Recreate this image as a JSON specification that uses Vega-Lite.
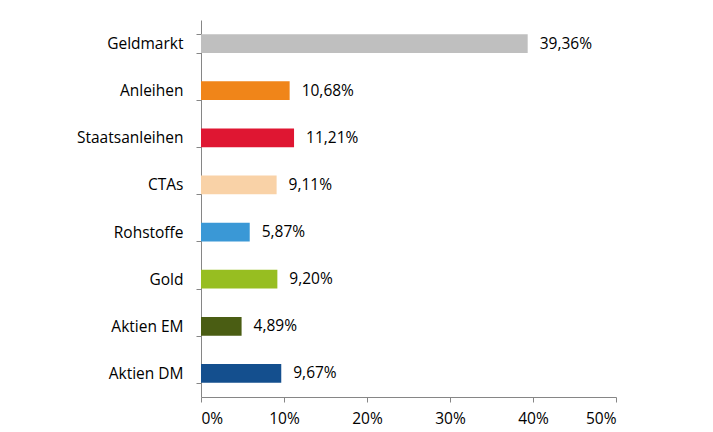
{
  "$schema": "https://vega.github.io/schema/vega-lite/v6.json",
  "width": 415,
  "height": 377,
  "autosize": {"type": "none"},
  "padding": {"left": 201, "top": 20, "right": 97, "bottom": 35},
  "background": "white",
  "data": {
    "values": [
      {"cat": "Geldmarkt", "v": 0.3936, "c": "#BFBFBF"},
      {"cat": "Anleihen", "v": 0.1068, "c": "#F08519"},
      {"cat": "Staatsanleihen", "v": 0.1121, "c": "#DF1632"},
      {"cat": "CTAs", "v": 0.0911, "c": "#F9D2A7"},
      {"cat": "Rohstoffe", "v": 0.0587, "c": "#3A98D6"},
      {"cat": "Gold", "v": 0.092, "c": "#97BE21"},
      {"cat": "Aktien EM", "v": 0.0489, "c": "#4A5D13"},
      {"cat": "Aktien DM", "v": 0.0967, "c": "#144F8E"}
    ]
  },
  "encoding": {
    "y": {
      "field": "cat", "type": "nominal", "sort": null, "title": null,
      "scale": {"paddingInner": 0.6, "paddingOuter": 0.3},
      "axis": {
        "tickBand": "extent", "tickSize": 5, "labelPadding": 13,
        "domainColor": "#868686", "tickColor": "#868686",
        "labelFont": "Open Sans", "labelFontSize": 15.5, "labelFontWeight": "normal", "labelColor": "#000000"
      }
    },
    "x": {
      "field": "v", "type": "quantitative", "title": null,
      "scale": {"domain": [0, 0.5], "nice": false},
      "axis": {
        "values": [0, 0.1, 0.2, 0.3, 0.4, 0.5], "format": ".0%", "grid": false,
        "tickSize": 5, "labelPadding": 9,
        "domainColor": "#868686", "tickColor": "#868686",
        "labelFont": "Open Sans", "labelFontSize": 15.5, "labelFontWeight": "normal", "labelColor": "#000000"
      }
    }
  },
  "layer": [
    {"mark": {"type": "bar"}, "encoding": {"color": {"field": "c", "type": "nominal", "scale": null}}},
    {"mark": {"type": "text", "align": "left", "baseline": "middle", "dx": 12, "font": "Open Sans", "fontSize": 15.5, "color": "#000000"},
     "encoding": {"text": {"field": "v", "type": "quantitative", "format": ".2%"}}}
  ],
  "config": {
    "view": {"stroke": null},
    "locale": {"number": {"decimal": ",", "thousands": ".", "grouping": [3], "currency": ["", " €"]}}
  }
}
